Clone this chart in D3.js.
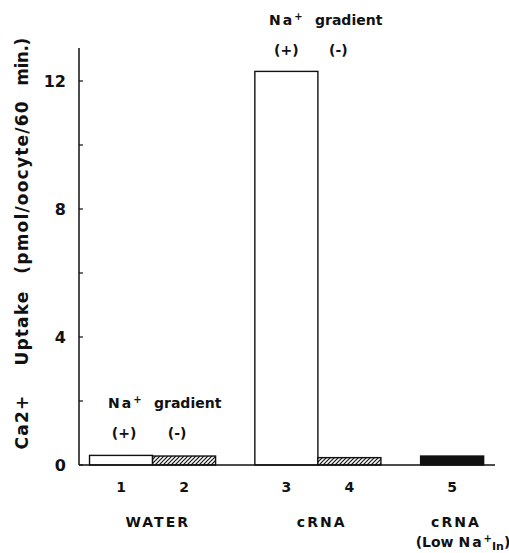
<!DOCTYPE html>
<html>
<head>
<meta charset="utf-8">
<script src="https://cdn.jsdelivr.net/npm/d3@7"></script>
<style>
  body { margin: 0; background: #fff; }
  text { font-family: "DejaVu Sans", Arial, sans-serif; font-weight: bold; fill: #111; }
</style>
</head>
<body>
<svg id="chart" width="509" height="553"></svg>
<script>
// data
var barNums = ["1", "2", "3", "4", "5"];
var uptake = [0.3, 0.28, 12.3, 0.23, 0.28];
var fills = ["white", "hatch", "white", "hatch", "black"];
var slot = [0.667, 1.667, 3.29, 4.29, 5.92];   // bar centre, in bar widths
var yTicks = [0, 4, 8, 12];
var yMinor = [2, 6, 10];
var groups = [
  {name: "WATER", at: 1.25},
  {name: "cRNA", at: 3.85},
  {name: "cRNA", at: 5.98}
];
var titleWords = ["Ca2+", "Uptake", "(pmol/oocyte/60", "min.)"];
var titleAt = [422, 328, 187, 62];   // word centres along the y axis (px)

var svg = d3.select("#chart"),
    x0 = 79, x1 = 495, yBase = 465;

var x = d3.scaleLinear().domain([0, 6.6]).range([x0, x1]);
var y = d3.scaleLinear().domain([0, 12]).range([yBase, 81]);
var bw = x(1) - x(0);

// hatch pattern
var defs = svg.append("defs");
var pat = defs.append("pattern")
    .attr("id", "hatch")
    .attr("patternUnits", "userSpaceOnUse")
    .attr("width", 4).attr("height", 4);
pat.append("rect").attr("width", 4).attr("height", 4).attr("fill", "#fff");
pat.append("path").attr("d", "M-1,5 L5,-1 M-1,1 L1,-1 M3,5 L5,3")
    .attr("stroke", "#111").attr("stroke-width", 1.2);

// bars
svg.selectAll("rect.bar")
    .data(uptake)
    .enter().append("rect")
    .attr("class", "bar")
    .attr("x", function (d, i) { return x(slot[i]) - bw / 2; })
    .attr("width", bw)
    .attr("y", function (d) { return y(d); })
    .attr("height", function (d) { return yBase - y(d); })
    .attr("fill", function (d, i) {
        return fills[i] == "hatch" ? "url(#hatch)" : (fills[i] == "black" ? "#111" : "#fff");
    })
    .attr("stroke", "#111")
    .attr("stroke-width", 1.4);

// axes
svg.append("line").attr("x1", x0).attr("x2", x0).attr("y1", 48).attr("y2", yBase)
    .attr("stroke", "#111").attr("stroke-width", 1.5);
svg.append("line").attr("x1", x0).attr("x2", x1).attr("y1", yBase).attr("y2", yBase)
    .attr("stroke", "#111").attr("stroke-width", 1.5);

svg.selectAll("line.tick")
    .data(yTicks.concat(yMinor))
    .enter().append("line")
    .attr("x1", x0).attr("x2", x0 + 4)
    .attr("y1", function (d) { return y(d); })
    .attr("y2", function (d) { return y(d); })
    .attr("stroke", "#111").attr("stroke-width", 1.2);

svg.selectAll("text.ytick")
    .data(yTicks)
    .enter().append("text")
    .attr("x", 66)
    .attr("y", function (d) { return y(d) + 6; })
    .attr("text-anchor", "end")
    .style("font-size", "16px")
    .text(function (d) { return d; });

// y axis title, word by word
svg.selectAll("text.ttl")
    .data(titleWords)
    .enter().append("text")
    .attr("transform", function (d, i) { return "translate(28," + titleAt[i] + ") rotate(-90)"; })
    .attr("text-anchor", "middle")
    .style("font-size", "17px")
    .style("letter-spacing", function (d, i) { return i == 3 ? "-0.5px" : "1.2px"; })
    .text(function (d) { return d; });

// bar numbers
svg.selectAll("text.num")
    .data(barNums)
    .enter().append("text")
    .attr("x", function (d, i) { return x(slot[i]); })
    .attr("y", 492)
    .attr("text-anchor", "middle")
    .style("font-size", "14px")
    .text(function (d) { return d; });

// group names
svg.selectAll("text.grp")
    .data(groups)
    .enter().append("text")
    .attr("x", function (d) { return x(d.at); })
    .attr("y", 527)
    .attr("text-anchor", "middle")
    .style("font-size", "14px")
    .style("letter-spacing", "2px")
    .text(function (d) { return d.name; });

var low = svg.append("text")
    .attr("x", 463).attr("y", 547)
    .attr("text-anchor", "middle")
    .style("font-size", "14px");
low.append("tspan").text("(Low ");
low.append("tspan").style("letter-spacing", "2px").text("Na");
low.append("tspan").attr("dy", -5).style("font-size", "10px").text("+");
low.append("tspan").attr("dy", 8).style("font-size", "11px").text("In");
low.append("tspan").attr("dy", -3).text(")");

// Na+ gradient annotations
function gradientLabel(xNa, xGrad, xa, xb, yTop) {
    var t = svg.append("text")
        .attr("x", xNa).attr("y", yTop)
        .style("font-size", "14px");
    t.append("tspan").style("letter-spacing", "2px").text("Na");
    t.append("tspan").attr("dy", -5).style("font-size", "10px").text("+");
    svg.append("text").attr("x", xGrad).attr("y", yTop)
        .style("font-size", "14px").text("gradient");
    svg.append("text").attr("x", xa).attr("y", yTop + 30)
        .attr("text-anchor", "middle").style("font-size", "14px").text("(+)");
    svg.append("text").attr("x", xb).attr("y", yTop + 30)
        .attr("text-anchor", "middle").style("font-size", "14px").text("(-)");
}
gradientLabel(108, 154, x(slot[0]) + 3, x(slot[1]) - 7, 408);
gradientLabel(269, 315, x(slot[2]), x(slot[3]) - 11, 25);
</script>
</body>
</html>
